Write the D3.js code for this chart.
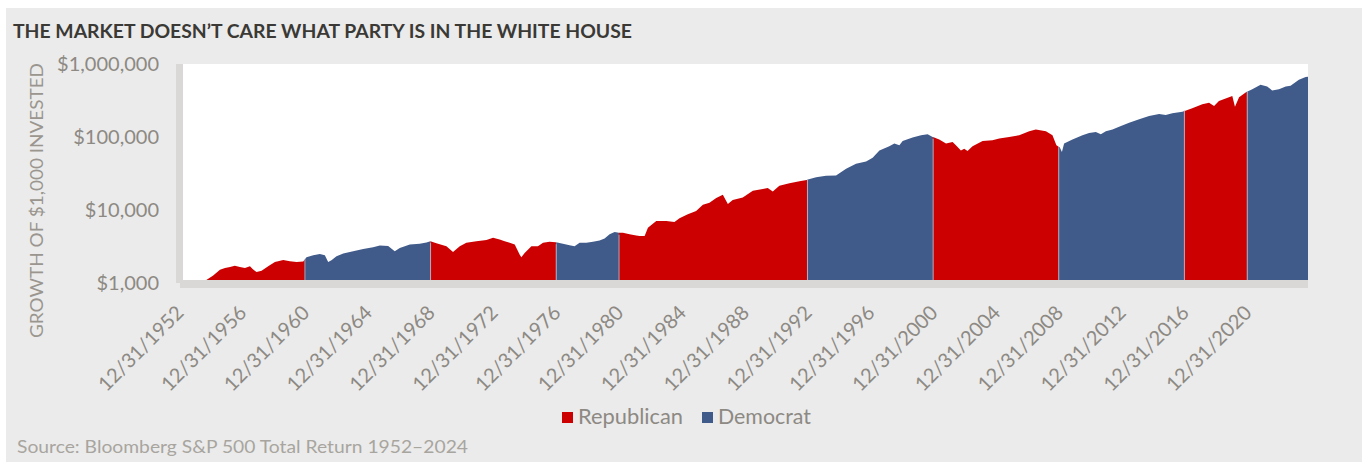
<!DOCTYPE html>
<html>
<head>
<meta charset="utf-8">
<script src="https://cdn.jsdelivr.net/npm/d3@7"></script>
<style>
  body { margin: 0; background: #fff; }
  svg { display: block; font-family: Lato, "Open Sans", sans-serif; }
</style>
</head>
<body>
<svg id="chart" width="1362" height="462"></svg>
<script>
// Growth of $1,000 (decimal year, dollars)
const years = [
  1953.00, 1953.70, 1954.58, 1955.21, 1955.64, 1955.96, 1956.28, 1956.59, 1956.91, 1957.23,
  1957.55, 1957.72, 1957.97, 1958.29, 1958.71, 1959.14, 1959.67, 1960.09, 1960.52, 1960.94,
  1961.15, 1961.58, 1962.00, 1962.32, 1962.53, 1962.74, 1963.06, 1963.49, 1964.12, 1964.76,
  1965.39, 1965.82, 1966.35, 1966.77, 1967.09, 1967.73, 1968.36, 1968.79, 1969.04, 1969.42,
  1970.06, 1970.48, 1970.91, 1971.33, 1971.97, 1972.61, 1973.03, 1973.45, 1973.77, 1974.09,
  1974.41, 1974.72, 1974.83, 1975.04, 1975.47, 1975.89, 1976.21, 1976.63, 1977.01, 1977.48,
  1977.90, 1978.22, 1978.54, 1978.97, 1979.39, 1979.81, 1980.13, 1980.45, 1980.77, 1981.04,
  1981.30, 1981.72, 1982.15, 1982.36, 1982.68, 1982.89, 1983.42, 1984.06, 1984.58, 1984.90,
  1985.43, 1985.96, 1986.39, 1986.81, 1987.24, 1987.66, 1987.98, 1988.29, 1988.93, 1989.57,
  1990.20, 1990.52, 1990.84, 1991.26, 1991.90, 1992.54, 1993.00, 1993.60, 1994.23, 1994.87,
  1995.51, 1996.14, 1996.78, 1997.20, 1997.63, 1998.26, 1998.58, 1998.90, 1999.11, 1999.74,
  2000.28, 2000.70, 2001.02, 2001.44, 2001.87, 2002.29, 2002.50, 2002.82, 2003.03, 2003.24,
  2003.56, 2004.20, 2004.83, 2005.26, 2005.89, 2006.53, 2007.17, 2007.59, 2008.23, 2008.65,
  2008.90, 2009.12, 2009.25, 2009.39, 2009.92, 2010.56, 2010.98, 2011.41, 2011.73, 2012.05,
  2012.47, 2012.89, 2013.53, 2014.17, 2014.80, 2015.44, 2015.86, 2016.28, 2016.92, 2017.55,
  2018.19, 2018.62, 2018.94, 2019.25, 2020.10, 2020.27, 2020.53, 2020.95, 2021.37, 2021.90,
  2022.32, 2022.64, 2023.07, 2023.50, 2023.81, 2024.34, 2024.77, 2024.92
];
const values = [
  1000, 920, 1000, 1230, 1476, 1553, 1603, 1676, 1603, 1553,
  1640, 1504, 1367, 1429, 1640, 1880, 2004, 1923, 1880, 1905,
  2185, 2328, 2427, 2328, 1880, 1986, 2255, 2460, 2643, 2844,
  3004, 3170, 3133, 2643, 2938, 3273, 3342, 3491, 3638, 3412,
  3102, 2587, 3102, 3451, 3638, 3758, 4045, 3837, 3638, 3451,
  3273, 2382, 2185, 2506, 3102, 3102, 3451, 3557, 3524, 3342,
  3204, 3102, 3451, 3451, 3557, 3720, 3966, 4509, 4849, 4742,
  4742, 4509, 4365, 4266, 4266, 5560, 6885, 6885, 6670, 7500,
  8530, 9470, 11470, 12230, 14200, 15780, 11730, 13330, 14480, 17920,
  18920, 19540, 17540, 21030, 22640, 24110, 25210, 27400, 28650, 28930,
  35810, 41980, 45190, 50840, 64130, 72920, 79430, 75300, 86300, 96200,
  103500, 106900, 98200, 90300, 79430, 83600, 75300, 64130, 67800, 62800,
  72920, 86300, 88300, 93300, 98200, 103500, 117700, 124200, 117700, 103500,
  75300, 70000, 60800, 79430, 90300, 103500, 111400, 115100, 106900, 117700,
  124200, 134900, 153300, 171000, 189800, 202300, 195900, 207000, 217800, 242700,
  275600, 290100, 261100, 306300, 359000, 255400, 344500, 399000, 444600, 510500,
  483100, 425600, 444600, 483100, 494300, 598400, 651600, 660000
];

// Presidential terms (inauguration, decimal year) and party
const termStarts = [1953.05, 1961.05, 1969.05, 1977.05, 1981.05, 1993.05, 2001.05, 2009.05, 2017.05, 2021.05];
const termParty = ["Republican", "Democrat", "Republican", "Democrat", "Republican",
                   "Democrat", "Republican", "Democrat", "Republican", "Democrat"];
const endYear = 2024.92;

const tickYears = [1953, 1957, 1961, 1965, 1969, 1973, 1977, 1981, 1985, 1989, 1993, 1997, 2001, 2005, 2009, 2013, 2017, 2021];
const tickLabels = ["12/31/1952", "12/31/1956", "12/31/1960", "12/31/1964", "12/31/1968", "12/31/1972",
  "12/31/1976", "12/31/1980", "12/31/1984", "12/31/1988", "12/31/1992", "12/31/1996",
  "12/31/2000", "12/31/2004", "12/31/2008", "12/31/2012", "12/31/2016", "12/31/2020"];
const yTicks = [1000, 10000, 100000, 1000000];

const partyColor = { Republican: "#cc0000", Democrat: "#405b8a" };

const svg = d3.select("#chart");
const plot = { left: 183, right: 1308, top: 64, bottom: 280 };

const x = d3.scaleLinear().domain([1953, endYear]).range([178.5, plot.right]);
const y = d3.scaleLog().domain([1000, 1000000]).range([282, 63.5]);

// background panel
svg.append("rect").attr("x", 6).attr("y", 8).attr("width", 1356).attr("height", 454).attr("fill", "#ebebeb");

// title
svg.append("text")
  .attr("x", 13).attr("y", 38)
  .attr("font-size", 19.5).attr("font-weight", 700)
  .attr("fill", "#3a3935")
  .attr("textLength", 619).attr("lengthAdjust", "spacingAndGlyphs")
  .text("THE MARKET DOESN’T CARE WHAT PARTY IS IN THE WHITE HOUSE");

// white plot area, wall and floor
svg.append("rect").attr("x", plot.left).attr("y", plot.top)
  .attr("width", plot.right - plot.left).attr("height", plot.bottom - plot.top).attr("fill", "#fff");

const data = years.map((t, i) => [t, values[i]]);
const area = d3.area()
  .x(d => x(d[0]))
  .y0(y(1000))
  .y1(d => y(d[1]));

const defs = svg.append("defs");
termStarts.forEach((s, i) => {
  const e = i < termStarts.length - 1 ? termStarts[i + 1] : endYear;
  const x0 = Math.max(x(s), plot.left);
  defs.append("clipPath").attr("id", "term" + i)
    .append("rect")
    .attr("x", x0).attr("y", plot.top)
    .attr("width", x(e) - x0).attr("height", plot.bottom - plot.top);
});

const terms = svg.append("g");
termStarts.forEach((s, i) => {
  terms.append("path")
    .datum(data)
    .attr("clip-path", `url(#term${i})`)
    .attr("fill", partyColor[termParty[i]])
    .attr("d", area);
});

// faint separators between terms
terms.selectAll("line.sep")
  .data(termStarts.slice(1))
  .enter().append("line")
  .attr("class", "sep")
  .attr("x1", d => x(d)).attr("x2", d => x(d))
  .attr("y1", plot.bottom)
  .attr("y2", d => {
    const i = d3.bisector(p => p[0]).left(data, d);
    return y(Math.max(data[i - 1][1], data[i][1])) + 2;
  })
  .attr("stroke", "#b9bfd2").attr("stroke-width", 1).attr("opacity", 0.8);

svg.append("rect").attr("x", 176).attr("y", plot.top).attr("width", 7).attr("height", 219).attr("fill", "#d9d8d6");
svg.append("rect").attr("x", 180).attr("y", plot.bottom).attr("width", plot.right - 180).attr("height", 8).attr("fill", "#d9d8d6");

// y axis
const yAxis = svg.append("g")
  .attr("transform", "translate(162,1)")
  .call(d3.axisLeft(y).tickValues(yTicks).tickFormat(d3.format("$,")).tickSize(0));
yAxis.select(".domain").remove();
yAxis.selectAll("text")
  .attr("font-family", "Lato, sans-serif")
  .attr("font-size", 20)
  .attr("fill", "#8d8983");

svg.append("text")
  .attr("transform", "translate(43,200.5) rotate(-90)")
  .attr("text-anchor", "middle")
  .attr("font-size", 17.5)
  .attr("fill", "#9a968f")
  .attr("textLength", 275).attr("lengthAdjust", "spacingAndGlyphs")
  .text("GROWTH OF $1,000 INVESTED");

// x axis
const xAxis = svg.append("g")
  .attr("transform", "translate(0,290)")
  .call(d3.axisBottom(x).tickValues(tickYears).tickFormat((d, i) => tickLabels[i]).tickSize(0));
xAxis.select(".domain").remove();
xAxis.selectAll("text")
  .attr("x", 0).attr("y", 0).attr("dy", 0)
  .attr("transform", "translate(6,24) rotate(-45)")
  .attr("text-anchor", "end")
  .attr("font-family", "Lato, sans-serif")
  .attr("font-size", 20)
  .attr("fill", "#8d8983");

// legend
const legendItems = ["Republican", "Democrat"];
const legendX = [562, 702];
const legendW = [105, 93];
const legend = svg.append("g");
legendItems.forEach((name, i) => {
  legend.append("rect")
    .attr("x", legendX[i]).attr("y", 412).attr("width", 11).attr("height", 11)
    .attr("fill", partyColor[name]);
  legend.append("text")
    .attr("x", legendX[i] + 16).attr("y", 424)
    .attr("font-size", 21).attr("fill", "#8d8983")
    .attr("textLength", legendW[i]).attr("lengthAdjust", "spacingAndGlyphs")
    .text(name);
});

// source
svg.append("text")
  .attr("x", 17).attr("y", 453)
  .attr("font-size", 17).attr("fill", "#a8a59f")
  .attr("textLength", 451).attr("lengthAdjust", "spacingAndGlyphs")
  .text("Source: Bloomberg S&P 500 Total Return 1952–2024");
</script>
</body>
</html>
